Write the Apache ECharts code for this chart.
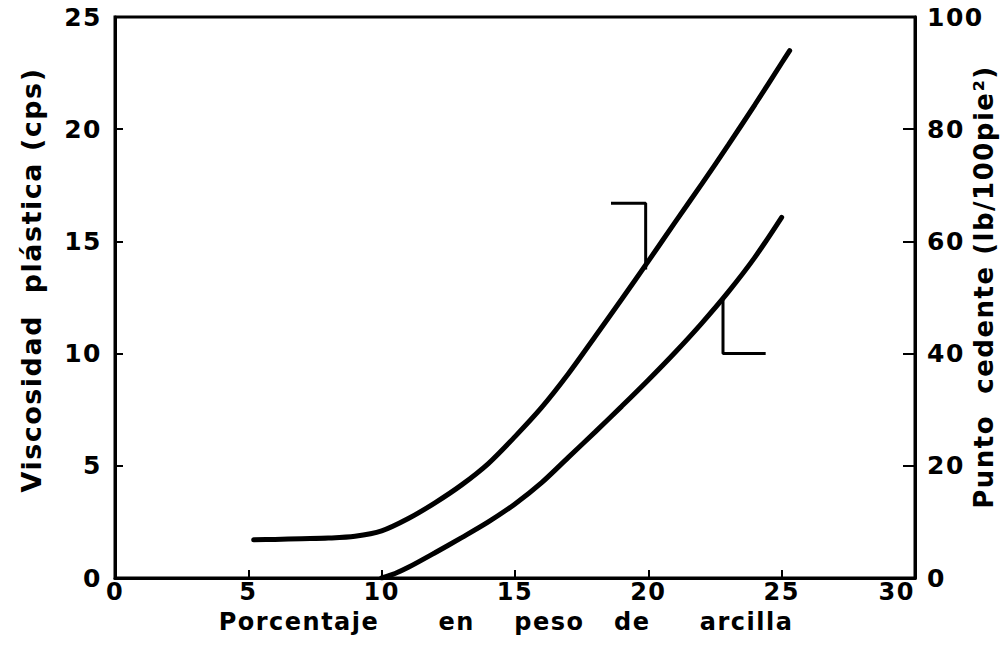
<!DOCTYPE html>
<html>
<head>
<meta charset="utf-8">
<script src="https://cdn.jsdelivr.net/npm/echarts@6/dist/echarts.min.js"></script>
<style>
html,body{margin:0;padding:0;background:#fff;}
#chart{width:1007px;height:646px;}
#chart text { letter-spacing: 1.5px; }
</style>
</head>
<body>
<div id="chart"></div>
<script>
// Percent clay (x) values for plastic viscosity
const xViscosity = [5.2, 6, 7, 8, 9, 10, 11, 12, 13, 14, 15, 16, 17, 18, 19, 20, 21, 22, 23, 24, 25, 25.3];
// Plastic viscosity (cps), left axis
const viscosity = [1.7, 1.72, 1.75, 1.78, 1.86, 2.1, 2.65, 3.35, 4.15, 5.1, 6.3, 7.6, 9.1, 10.75, 12.42, 14.12, 15.85, 17.55, 19.3, 21.1, 22.95, 23.5];
// Percent clay (x) values for yield point
const xYield = [10, 10.5, 11, 12, 13, 14, 15, 16, 17, 18, 19, 20, 21, 22, 23, 24, 25];
// Yield point (lb/100 pie²), right axis
const yieldPoint = [0, 0.8, 1.9, 4.5, 7.2, 10.0, 13.2, 17.0, 21.5, 26.0, 30.6, 35.3, 40.2, 45.4, 51.0, 57.2, 64.3];
// Bracket markers identifying which axis each curve belongs to
const viscBracket = [[18.6, 16.7], [19.9, 16.7], [19.9, 13.75]];
const yieldBracket = [[22.8, 50.0], [22.8, 40], [24.4, 40]];
// Tick labels
const xTicks = [0, 5, 10, 15, 20, 25, 30];
const leftTicks = [0, 5, 10, 15, 20, 25];
const rightTicks = [0, 20, 40, 60, 80, 100];
const xName = 'Porcentaje      en    peso   de     arcilla';
const leftName = 'Viscosidad  plástica (cps)';
const rightName = 'Punto  cedente (lb/100pie²)';

const chart = echarts.init(document.getElementById('chart'), null, {renderer: 'svg'});
const font = 'DejaVu Sans';
const lblStyle = {color: '#000', fontFamily: font, fontWeight: 'bold', fontSize: 25};

const zip = (xs, ys) => xs.map((x, i) => [x, ys[i]]);

chart.setOption({
  backgroundColor: '#fff',
  animation: false,
  grid: {left: 115, right: 92, top: 17, bottom: 68, show: true, borderColor: '#000', borderWidth: 3},
  xAxis: {
    type: 'value', min: xTicks[0], max: xTicks[xTicks.length - 1], interval: 5,
    axisLine: {lineStyle: {color: '#000', width: 3}},
    axisTick: {inside: true, length: 8, lineStyle: {color: '#000', width: 2}},
    axisLabel: Object.assign({}, lblStyle, {margin: 2, fontSize: 24, alignMaxLabel: 'right'}),
    splitLine: {show: false}
  },
  yAxis: [
    {
      type: 'value', min: leftTicks[0], max: leftTicks[leftTicks.length - 1], interval: 5,
      axisLine: {show: true, lineStyle: {color: '#000', width: 3}},
      axisTick: {show: true, inside: true, length: 8, lineStyle: {color: '#000', width: 2}},
      axisLabel: Object.assign({margin: 13}, lblStyle),
      splitLine: {show: false}
    },
    {
      type: 'value', position: 'right', min: rightTicks[0], max: rightTicks[rightTicks.length - 1], interval: 20,
      axisLine: {show: true, lineStyle: {color: '#000', width: 3}},
      axisTick: {show: true, inside: true, length: 12, lineStyle: {color: '#000', width: 2}},
      axisLabel: Object.assign({margin: 12, alignMinLabel: 'bottom'}, lblStyle),
      splitLine: {show: false}
    }
  ],
  graphic: [
    {type: 'text', x: 506, y: 622,
     style: {text: xName, fill: '#000', font: 'bold 24px "DejaVu Sans"', align: 'center', verticalAlign: 'middle'}},
    {type: 'text', x: 31, y: 280, rotation: Math.PI / 2,
     style: {text: leftName, fill: '#000', font: 'bold 27px "DejaVu Sans"', align: 'center', verticalAlign: 'middle'}},
    {type: 'text', x: 984, y: 287, rotation: Math.PI / 2,
     style: {text: rightName, fill: '#000', font: 'bold 26px "DejaVu Sans"', align: 'center', verticalAlign: 'middle'}}
  ],
  series: [
    {type: 'line', yAxisIndex: 0, data: zip(xViscosity, viscosity), smooth: 0.3, showSymbol: false,
     lineStyle: {color: '#000', width: 5, cap: 'round'}},
    {type: 'line', yAxisIndex: 1, data: zip(xYield, yieldPoint), smooth: 0.3, showSymbol: false,
     lineStyle: {color: '#000', width: 5, cap: 'round'}},
    {type: 'line', yAxisIndex: 0, data: viscBracket, showSymbol: false,
     lineStyle: {color: '#000', width: 3}},
    {type: 'line', yAxisIndex: 1, data: yieldBracket, showSymbol: false,
     lineStyle: {color: '#000', width: 3}}
  ]
});
</script>
</body>
</html>
